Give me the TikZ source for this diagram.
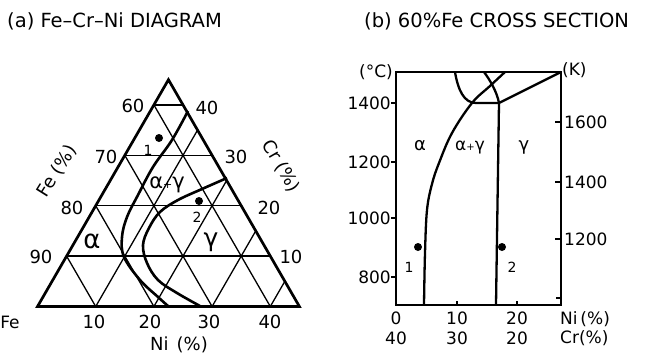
\documentclass[tikz,border=0pt]{standalone}
\usepackage{fontspec}
\setmainfont{DejaVu Sans}
\usetikzlibrary{positioning}
\newcommand{\setfs}[1]{\fontsize{#1}{#1}\selectfont}

\tikzset{
  frameline/.style={line width=2.7pt, line join=miter},
  gridline/.style={line width=1.3pt},
  phaseline/.style={line width=2.6pt},
  boxline/.style={line width=2.3pt},
  tickline/.style={line width=1.6pt},
  numlabel/.style={inner sep=0pt, font=\setfs{18}},
  axlabel/.style={inner sep=0pt, font=\setfs{17}},
  dotlabel/.style={inner sep=0pt, font=\setfs{14}},
  phaselabel/.style={inner sep=0pt, anchor=base},
  titlelabel/.style={inner sep=0pt, anchor=west, font=\setfs{19.5}},
}

\begin{document}
\begin{tikzpicture}[x=1pt, y=-1pt]
  \useasboundingbox (0,0) rectangle (648,356);

  \node[titlelabel] (titleA) at (7,21) {(a) Fe–Cr–Ni DIAGRAM};
  \node[titlelabel] (titleB) at (364,21) {(b) 60\%Fe CROSS SECTION};

  % ternary grid, coordinates (Ni, Cr) in %
  \begin{scope}[shift={(37.5pt,-306.5pt)}, x={(5.82pt,0pt)}, y={(2.91pt,5.04pt)}]
    \foreach \c in {10,20,30,40} {
      \draw[gridline] (0,\c) -- ({45-\c},\c);
      \draw[gridline] (\c,0) -- (\c,{45-\c});
      \draw[gridline] (\c,0) -- (0,\c);
    }
    \draw[frameline] (0,0) coordinate (cornerFe) -- (45,0) coordinate (cornerNi)
      -- (0,45) coordinate (cornerCr) -- cycle;
  \end{scope}

  \draw[phaseline] plot[smooth, tension=0.6] coordinates {(188,111) (172,140) (153,167)
    (138,195) (127,217) (122,237) (124,257) (140,280) (158,297) (168,306)};
  \draw[phaseline] plot[smooth, tension=0.6] coordinates {(227,178) (202,189) (178,200)
    (160,212) (149,228) (143,245) (147,263) (158,280) (177,293) (200,306)};

  \foreach \x/\y/\v in {133/106/60,106/157/70,72/208/80,41/257/90} {
    \node[numlabel] (fe\v) at (\x,\y) {\v};
  }
  \foreach \x/\y/\v in {207/108/40,236/157/30,269/208/20,291/257/10} {
    \node[numlabel] (cr\v) at (\x,\y) {\v};
  }
  \foreach \x/\v in {94/10,150/20,209/30,270/40} {
    \node[numlabel] (ni\v) at (\x,322) {\v};
  }
  \node[numlabel, font=\setfs{17}] (feCorner) at (10,322) {Fe};
  \node[numlabel, rotate=58] (feAxis) at (57,171) {Fe (\%)};
  \node[numlabel, rotate=-60] (crAxis) at (281,166) {Cr (\%)};
  \node[numlabel] (niAxis) at (179,345) {Ni\hspace{0.45em}(\%)};

  \node[phaselabel, font=\setfs{26}] (triAlpha) at (92,248) {α};
  \node[phaselabel, font=\setfs{21}] (triMix) at (167,188) {α{\setfs{11}+}γ};
  \node[phaselabel, font=\setfs{25}] (triGamma) at (211,246) {γ};

  \fill (159,138) circle[radius=4pt];
  \fill (199,201) circle[radius=4pt];
  \node[dotlabel] (triOne) at (148,150) {1};
  \node[dotlabel] (triTwo) at (197,217) {2};

  % 60% Fe section
  \draw[boxline] (396,72) rectangle (561,305);
  \foreach \y/\t in {103/1400,162/1200,218/1000,277/800} {
    \draw[tickline] (391,\y) -- (396,\y);
    \node[axlabel, anchor=east] (tc\t) at (391,\y) {\t};
  }
  \node[axlabel, anchor=east] (unitC) at (393,72) {(°C)};
  \foreach \y/\t in {122/1600,182/1400,239/1200} {
    \draw[tickline] (555,\y) -- (562,\y);
    \node[axlabel, anchor=west] (tk\t) at (564,\y) {\t};
  }
  \draw[tickline] (556,298) -- (561,298);
  \node[axlabel, anchor=west] (unitK) at (562,70) {(K)};
  \draw[tickline] (457,305) -- (457,301);
  \draw[tickline] (517,305) -- (517,301);
  \foreach \x/\n/\c in {396/0/40,457/10/30,517/20/20} {
    \node[axlabel] (sni\n) at (\x,318) {\n};
    \node[axlabel] (scr\c) at (\x,338) {\c};
  }
  \node[axlabel, anchor=west] (niUnit) at (560,319) {Ni\,(\%)};
  \node[axlabel, anchor=west] (crUnit) at (560,338) {Cr(\%)};

  \draw[boxline] plot[smooth, tension=0.6] coordinates {(424,305) (425,253) (427,210)
    (432,184) (439,163) (452,133) (472,103) (490,86) (505,72)};
  \draw[boxline] (496,305) -- (499,103) -- (561,72);
  \draw[boxline] (455,72) .. controls (458,90) and (464,103) .. (476,103) -- (499,103);
  \draw[boxline] (484,72) .. controls (490,80) and (497,92) .. (499,103);

  \node[phaselabel, font=\setfs{18}] (secAlpha) at (420,150) {α};
  \node[phaselabel, font=\setfs{17}] (secMix) at (470,150) {α{\setfs{10}+}γ};
  \node[phaselabel, font=\setfs{18}] (secGamma) at (524,150) {γ};

  \fill (418,247) circle[radius=4pt];
  \fill (502,247) circle[radius=4pt];
  \node[dotlabel] (secOne) at (409,267) {1};
  \node[dotlabel] (secTwo) at (512,267) {2};
\end{tikzpicture}
\end{document}
